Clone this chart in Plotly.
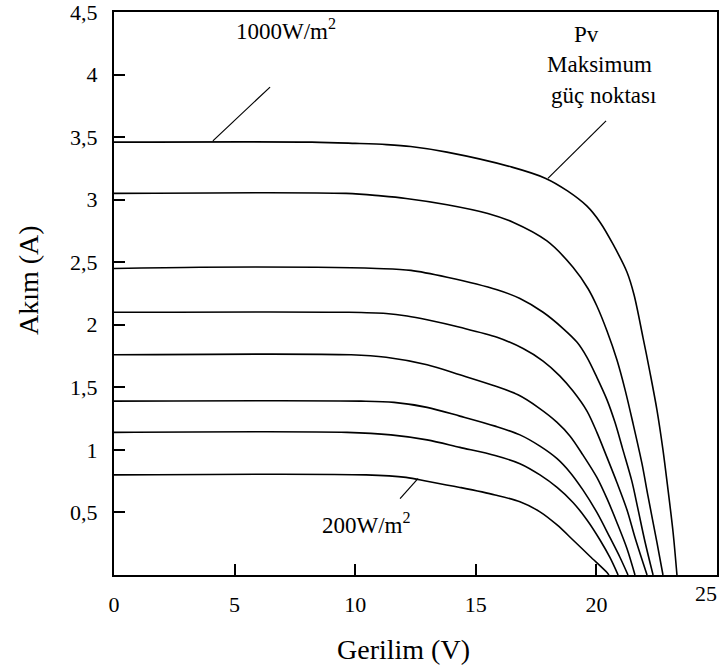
import plotly.graph_objects as go

# ---- data ----
irradiance_labels = ["1000W/m²", "900W/m²", "700W/m²", "600W/m²", "500W/m²", "400W/m²", "300W/m²", "200W/m²"]

v_1000 = [0, 8.2, 10.0, 11.3, 12.3, 13.8, 16.5, 17.9, 18.8, 19.6, 20.15, 20.7, 21.27, 21.56, 21.93, 22.22, 22.51, 22.76, 22.97, 23.18, 23.34]
i_1000 = [3.46, 3.46, 3.45, 3.44, 3.425, 3.38, 3.26, 3.17, 3.07, 2.95, 2.82, 2.64, 2.42, 2.24, 1.90, 1.62, 1.32, 1.00, 0.68, 0.34, 0]

v_c2 = [0, 9.62, 11.07, 12.11, 13.81, 15.5, 16.54, 17.95, 19.03, 19.65, 20.02, 20.44, 20.85, 21.19, 21.52, 21.89, 22.14, 22.51, 22.76]
i_c2 = [3.05, 3.05, 3.03, 3.01, 2.96, 2.89, 2.82, 2.67, 2.46, 2.29, 2.15, 1.95, 1.72, 1.48, 1.21, 0.89, 0.63, 0.26, 0]

v_c3 = [0, 3.57, 8.42, 10.90, 12.31, 13.81, 15.88, 16.83, 17.79, 18.62, 19.20, 19.61, 20.02, 20.44, 20.77, 21.10, 21.47, 21.72, 22.01, 22.35]
i_c3 = [2.45, 2.46, 2.46, 2.45, 2.435, 2.38, 2.28, 2.21, 2.10, 1.97, 1.86, 1.74, 1.58, 1.40, 1.22, 1.00, 0.75, 0.53, 0.27, 0]

v_c4 = [0, 9.74, 11.28, 12.15, 12.98, 14.34, 15.88, 16.96, 17.79, 18.49, 19.03, 19.61, 20.02, 20.44, 20.85, 21.27, 21.60, 21.93, 22.10]
i_c4 = [2.10, 2.10, 2.09, 2.07, 2.04, 1.98, 1.90, 1.81, 1.71, 1.59, 1.47, 1.31, 1.14, 0.94, 0.74, 0.52, 0.30, 0.10, 0]

v_c5 = [0, 9.83, 11.28, 12.98, 14.34, 15.80, 16.75, 17.58, 18.37, 18.91, 19.44, 20.02, 20.44, 20.85, 21.27, 21.60]
i_c5 = [1.76, 1.76, 1.74, 1.68, 1.60, 1.51, 1.44, 1.34, 1.22, 1.11, 0.96, 0.78, 0.61, 0.42, 0.21, 0]

v_c6 = [0, 10.24, 11.61, 12.98, 14.34, 15.80, 16.83, 17.66, 18.37, 18.91, 19.44, 20.02, 20.56, 20.98, 21.31]
i_c6 = [1.39, 1.39, 1.38, 1.34, 1.27, 1.19, 1.12, 1.03, 0.93, 0.82, 0.68, 0.50, 0.30, 0.14, 0]

v_c7 = [0, 9.66, 11.48, 12.98, 14.34, 15.80, 16.83, 17.66, 18.37, 19.03, 19.61, 20.15, 20.56, 20.90]
i_c7 = [1.14, 1.14, 1.12, 1.08, 1.02, 0.955, 0.89, 0.80, 0.70, 0.58, 0.44, 0.28, 0.14, 0]

v_200 = [0, 10.45, 12.11, 12.98, 14.34, 15.80, 16.83, 17.66, 18.37, 19.03, 19.73, 20.44, 20.52]
i_200 = [0.80, 0.80, 0.78, 0.75, 0.70, 0.64, 0.585, 0.505, 0.40, 0.28, 0.15, 0.02, 0]

curves_v = [v_1000, v_c2, v_c3, v_c4, v_c5, v_c6, v_c7, v_200]
curves_i = [i_1000, i_c2, i_c3, i_c4, i_c5, i_c6, i_c7, i_200]

x_tickvals = [0, 5, 10, 15, 20, 25]
x_ticktext = ["0", "5", "10", "15", "20", ""]   # "25" is drawn inside the edge below
x_last_label = "25"
y_tickvals = [0.5, 1, 1.5, 2, 2.5, 3, 3.5, 4, 4.5]
y_ticktext = ["0,5", "1", "1,5", "2", "2,5", "3", "3,5", "4", "4,5"]
x_title = "Gerilim (V)"
y_title = "Akım (A)"

FONT = "Liberation Serif"
tick_font = dict(family=FONT, size=22, color="black")
title_font = dict(family=FONT, size=28, color="black")
ann_font = dict(family=FONT, size=23, color="black")

fig = go.Figure()
for name, vs, cs in zip(irradiance_labels, curves_v, curves_i):
    fig.add_trace(go.Scatter(
        x=vs, y=cs, mode="lines", name=name,
        line=dict(color="black", width=1.6, shape="spline", smoothing=0.9),
        showlegend=False, hoverinfo="skip"))

# leader lines
for (x0, y0, x1, y1) in [(4.10, 3.47, 6.47, 3.90), (17.99, 3.17, 20.40, 3.63), (12.60, 0.77, 11.86, 0.61)]:
    fig.add_shape(type="line", x0=x0, y0=y0, x1=x1, y1=y1, xref="x", yref="y",
                  line=dict(color="black", width=1.2))

fig.add_annotation(x=7.13, y=4.36, text="1000W/m<sup>2</sup>", showarrow=False, font=ann_font)
fig.add_annotation(x=10.45, y=0.41, text="200W/m<sup>2</sup>", showarrow=False, font=ann_font)
fig.add_annotation(x=19.61, y=4.32, text="Pv", showarrow=False, font=ann_font)
fig.add_annotation(x=20.11, y=4.08, text="Maksimum", showarrow=False, font=ann_font)
fig.add_annotation(x=20.31, y=3.83, text="güç noktası", showarrow=False, font=ann_font)
fig.add_annotation(x=25, xref="x", y=0, yref="paper", yanchor="top", xanchor="right",
                   yshift=-4, xshift=2, text=x_last_label, showarrow=False, font=tick_font)

# axis titles (placed where the reference puts them)
fig.add_annotation(x=0.48, xref="paper", y=0, yref="paper", yanchor="middle", xanchor="center",
                   yshift=-74, text=x_title, showarrow=False, font=title_font)
fig.add_annotation(x=0, xref="paper", y=0.524, yref="paper", yanchor="middle", xanchor="center",
                   xshift=-85, text=y_title, textangle=-90, showarrow=False, font=title_font)

fig.update_xaxes(
    range=[0, 25], tickvals=x_tickvals, ticktext=x_ticktext,
    ticks="inside", ticklen=11, tickwidth=1.5, tickcolor="black",
    showline=True, linecolor="black", linewidth=2, mirror=True,
    showgrid=False, zeroline=False, ticklabelstandoff=9,
    tickfont=tick_font,
)
fig.update_yaxes(
    range=[0, 4.5], tickvals=y_tickvals, ticktext=y_ticktext,
    ticks="inside", ticklen=11, tickwidth=1.5, tickcolor="black",
    showline=True, linecolor="black", linewidth=2, mirror=True,
    showgrid=False, zeroline=False, ticklabelstandoff=10,
    ticklabeloverflow="allow",
    tickfont=tick_font,
)
fig.update_layout(
    width=724, height=670,
    margin=dict(l=114, r=7, t=12, b=95, autoexpand=False),
    paper_bgcolor="white", plot_bgcolor="white",
    showlegend=False,
)
fig.write_html("out.html")
